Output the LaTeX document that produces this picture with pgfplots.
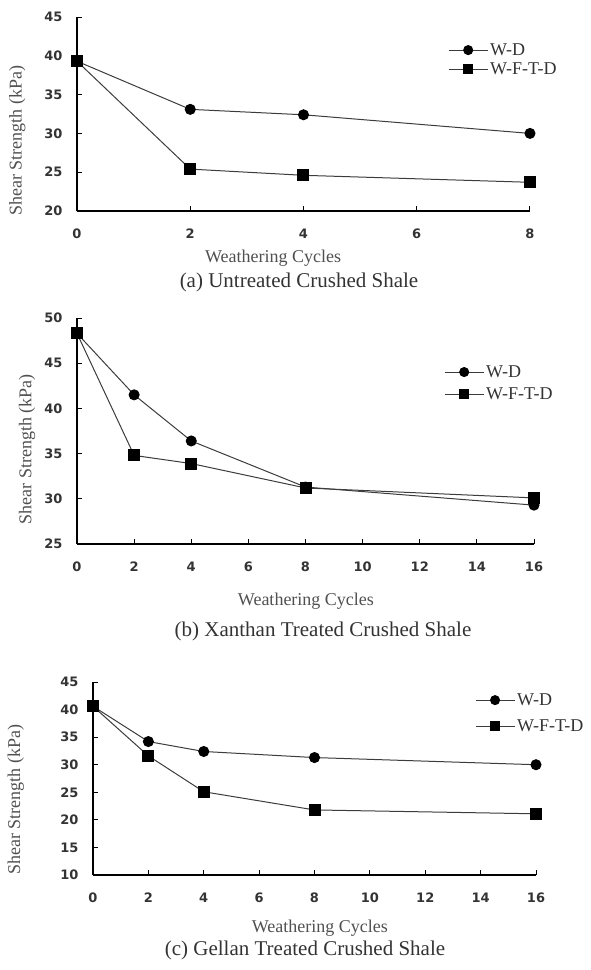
\documentclass[border=0pt]{standalone}
\usepackage{fontspec}
\setmainfont{Liberation Serif}
\newfontfamily\tickfont{DejaVu Sans}
\usepackage{pgfplots}
\pgfplotsset{compat=1.18}

\definecolor{txt}{HTML}{333333}
\definecolor{lbl}{HTML}{505050}
\definecolor{ln}{HTML}{3C3C3C}

\pgfplotsset{
  panel/.style={
    scale only axis,
    axis lines=left,
    axis line style={-, line width=1.1pt, black},
    tick align=inside,
    major tick length=5pt,
    tick style={black, line width=1pt},
    /pgf/number format/assume math mode=true,
    ticklabel style={font=\tickfont\bfseries\fontsize{13}{14}\selectfont, text=txt},
    xticklabel style={yshift=-14pt},
    yticklabel style={xshift=-11pt},
    label style={font=\fontsize{18}{20}\selectfont, text=lbl},
    clip=false,
    legend cell align=left,
    legend style={draw=none, fill=none, font=\fontsize{18}{20}\selectfont,
      text=txt, anchor=north west, inner sep=0pt},
    legend image code/.code={\draw[mark repeat=2,mark phase=2,##1]
      plot coordinates {(0pt,0pt) (19.5pt,0pt) (39pt,0pt)};},
    legend image post style={mark size=4.5pt},
  },
  wd/.style={color=ln, line width=1pt, mark=*, mark size=5pt,
    mark options={fill=black, draw=black}},
  wftd/.style={color=ln, line width=1pt, mark=square*, mark size=5.5pt,
    mark options={fill=black, draw=black}},
}

\begin{document}
\begin{tikzpicture}
\useasboundingbox (0,0) rectangle (590pt,-970pt);

% (a) untreated
\begin{axis}[panel,
  at={(77pt,-211pt)}, anchor=south west,
  width=453pt, height=194pt,
  xmin=0, xmax=8, ymin=20, ymax=45,
  xtick={0,2,4,6,8}, ytick={20,25,30,35,40,45},
  xlabel={Weathering Cycles},
  xlabel style={at={(axis description cs:0.433,0)}, anchor=center, yshift=-47pt},
  ylabel={Shear Strength (kPa)},
  ylabel style={at={(axis description cs:-0.132,0.361)}, anchor=center},
  legend style={at={(axis description cs:0.819,0.875)}, row sep=2pt},
]
\addplot[wd] coordinates {(0,39.3) (2,33.1) (4,32.4) (8,30.0)};
\addlegendentry{W-D}
\addplot[wftd] coordinates {(0,39.3) (2,25.4) (4,24.6) (8,23.7)};
\addlegendentry{W-F-T-D}
\end{axis}
\node[font=\fontsize{21}{23}\selectfont, text=txt] at (299pt,-282pt) {(a) Untreated Crushed Shale};

% (b) xanthan
\begin{axis}[panel,
  at={(77pt,-544pt)}, anchor=south west,
  width=457pt, height=226pt,
  xmin=0, xmax=16, ymin=25, ymax=50,
  xtick={0,2,...,16}, ytick={25,30,35,40,45,50},
  xlabel={Weathering Cycles},
  xlabel style={at={(axis description cs:0.501,0)}, anchor=center, yshift=-57pt},
  ylabel={Shear Strength (kPa)},
  ylabel style={at={(axis description cs:-0.109,0.420)}, anchor=center},
  legend style={at={(axis description cs:0.803,0.80)}, row sep=5pt},
]
\addplot[wd] coordinates {(0,48.3) (2,41.5) (4,36.4) (8,31.3) (16,29.3)};
\addlegendentry{W-D}
\addplot[wftd] coordinates {(0,48.3) (2,34.8) (4,33.9) (8,31.2) (16,30.1)};
\addlegendentry{W-F-T-D}
\end{axis}
\node[font=\fontsize{21}{23}\selectfont, text=txt] at (323pt,-631pt) {(b) Xanthan Treated Crushed Shale};

% (c) gellan
\begin{axis}[panel,
  at={(93pt,-875pt)}, anchor=south west,
  width=443pt, height=193pt,
  xmin=0, xmax=16, ymin=10, ymax=45,
  xtick={0,2,...,16}, ytick={10,15,20,25,30,35,40,45},
  xlabel={Weathering Cycles},
  xlabel style={at={(axis description cs:0.512,0)}, anchor=center, yshift=-53pt},
  ylabel={Shear Strength (kPa)},
  ylabel style={at={(axis description cs:-0.174,0.389)}, anchor=center},
  legend style={at={(axis description cs:0.862,0.952)}, row sep=9pt},
]
\addplot[wd] coordinates {(0,40.6) (2,34.2) (4,32.4) (8,31.3) (16,30.0)};
\addlegendentry{W-D}
\addplot[wftd] coordinates {(0,40.6) (2,31.6) (4,25.1) (8,21.8) (16,21.1)};
\addlegendentry{W-F-T-D}
\end{axis}
\node[font=\fontsize{21}{23}\selectfont, text=txt] at (305pt,-950pt) {(c) Gellan Treated Crushed Shale};
\end{tikzpicture}
\end{document}
